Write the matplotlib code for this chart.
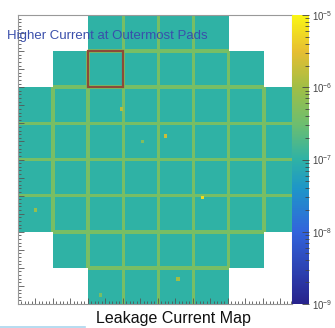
import numpy as np
import matplotlib
matplotlib.use("Agg")
import matplotlib.pyplot as plt
from matplotlib.colors import LinearSegmentedColormap, LogNorm
from matplotlib.patches import Rectangle
from matplotlib.lines import Line2D
from matplotlib.ticker import MultipleLocator, NullFormatter

plt.rcParams["font.family"] = ["Liberation Sans", "DejaVu Sans"]

# pad leakage current [A], rows top -> bottom, nan = no pad
nan = np.nan
pad_current = [
    [nan, nan, 1e-7, 1e-7, 1e-7, 1e-7, nan, nan],
    [nan, 1e-7, 1e-7, 1e-7, 1e-7, 1e-7, 1e-7, nan],
    [1e-7, 1e-7, 1e-7, 1e-7, 1e-7, 1e-7, 1e-7, 1e-7],
    [1e-7, 1e-7, 1e-7, 1e-7, 1e-7, 1e-7, 1e-7, 1e-7],
    [1e-7, 1e-7, 1e-7, 1e-7, 1e-7, 1e-7, 1e-7, 1e-7],
    [1e-7, 1e-7, 1e-7, 1e-7, 1e-7, 1e-7, 1e-7, 1e-7],
    [nan, 1e-7, 1e-7, 1e-7, 1e-7, 1e-7, 1e-7, nan],
    [nan, nan, 1e-7, 1e-7, 1e-7, 1e-7, nan, nan],
]
# current measured along the gaps between neighbouring pads
gap_current = 4e-7

# small hot spots (x, y in pad units, y from bottom)
hot_x = [2.96, 4.23, 3.58, 5.28, 0.51, 4.55, 2.36]
hot_y = [5.37, 4.63, 4.46, 2.95, 2.57, 0.68, 0.24]
hot_current = [1.5e-6, 2e-6, 5e-7, 6e-6, 8e-7, 1e-6, 4e-7]

# highlighted pad (column, row from top)
highlight_pad = (2, 1)

# palette
pal_pos = [0.0, 0.25, 0.4, 0.5, 0.625, 0.75, 0.875, 1.0]
pal_col = ["#28238c", "#3264dc", "#1e96c8", "#2eb2a6",
           "#6ebe6e", "#a0be46", "#e6be32", "#faf514"]
pal = LinearSegmentedColormap.from_list("pal", list(zip(pal_pos, pal_col)))
pal.set_bad("white")

# build fine map
nb = 20
pads = np.array(pad_current, dtype=float)
npad = pads.shape[0]
fine = np.kron(pads, np.ones((nb, nb)))
active = ~np.isnan(pads)
for r in range(npad):
    for c in range(npad):
        if not active[r, c]:
            continue
        if c + 1 < npad and active[r, c + 1]:
            fine[r * nb:(r + 1) * nb, (c + 1) * nb - 1:(c + 1) * nb + 1] = gap_current
        if r + 1 < npad and active[r + 1, c]:
            fine[(r + 1) * nb - 1:(r + 1) * nb + 1, c * nb:(c + 1) * nb] = gap_current
for x, y, v in zip(hot_x, hot_y, hot_current):
    i = int((npad - y) * nb)
    j = int(x * nb)
    fine[i - 1:i + 1, j - 1:j + 1] = v

fig = plt.figure(figsize=(3.35, 3.28), dpi=100)
ax = fig.add_axes([0.0537, 0.0732, 0.818, 0.881])
cax = fig.add_axes([0.8716, 0.0732, 0.0507, 0.881])

norm = LogNorm(vmin=1e-9, vmax=1e-5)
im = ax.imshow(np.ma.masked_invalid(fine), cmap=pal, norm=norm, origin="upper",
               extent=(0, npad, 0, npad), aspect="auto", interpolation="nearest",
               zorder=1)

# dotted pad grid, only visible where there is no pad
ax.vlines(np.arange(1, npad), 0, npad, colors="#c8c8c8", linestyles=":",
          linewidth=0.8, zorder=0.5)
ax.hlines(np.arange(1, npad), 0, npad, colors="#c8c8c8", linestyles=":",
          linewidth=0.8, zorder=0.5)

hc, hr = highlight_pad
ax.add_patch(Rectangle((hc, npad - hr - 1), 1, 1, fill=False,
                       edgecolor="#8c4a38", linewidth=1.6, zorder=3))

ax.set_xlim(0, 7.83)
ax.set_ylim(0, npad)
for s in ax.spines.values():
    s.set_color("#999999")
    s.set_linewidth(0.8)
ax.xaxis.set_major_locator(MultipleLocator(0.5))
ax.xaxis.set_minor_locator(MultipleLocator(0.1))
ax.yaxis.set_major_locator(MultipleLocator(0.5))
ax.yaxis.set_minor_locator(MultipleLocator(0.1))
ax.tick_params(which="both", direction="in", top=False, right=False,
               labelbottom=False, labelleft=False, color="#555555", width=0.6)
ax.tick_params(which="major", length=4)
ax.tick_params(which="minor", length=2)

cb = fig.colorbar(im, cax=cax)
cb.outline.set_visible(False)
cax.tick_params(which="both", direction="in", colors="#444444", labelsize=7,
                pad=2, width=0.6)
cax.tick_params(which="major", length=5)
cax.tick_params(which="minor", length=3)
cax.yaxis.set_minor_formatter(NullFormatter())

fig.text(0.021, 0.890, "Higher Current at Outermost Pads", color="#3a4fab",
         fontsize=9.5, ha="left", va="center")
fig.text(0.518, 0.030, "Leakage Current Map", color="#111111",
         fontsize=11.5, ha="center", va="center")
fig.add_artist(Line2D([0, 0.255], [0.004, 0.004], color="#a9d5ee",
                      linewidth=1.2, transform=fig.transFigure))

fig.savefig("out.png", dpi=100)
